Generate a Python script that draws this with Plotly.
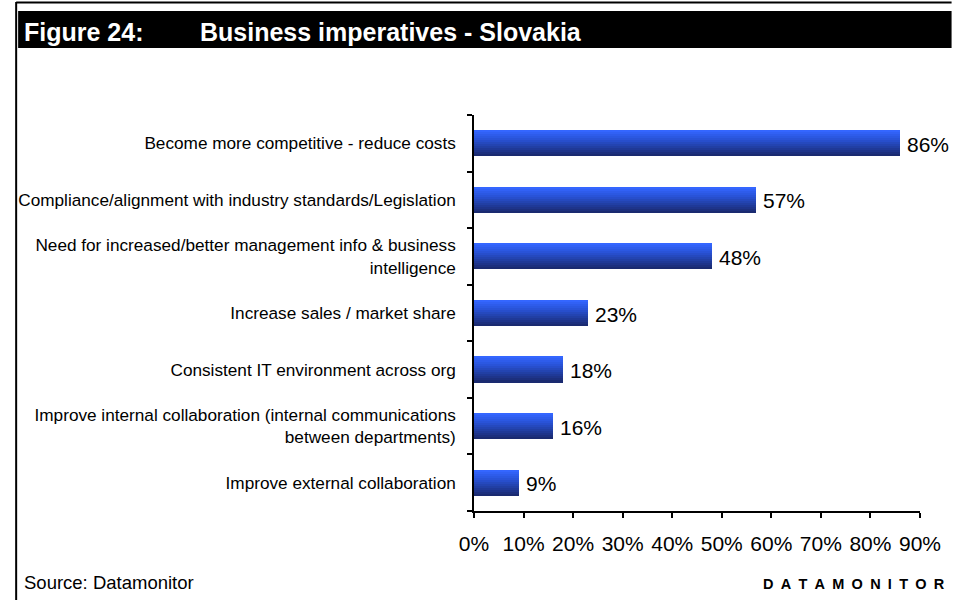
import plotly.graph_objects as go

# ---- data -------------------------------------------------------------
categories = [
    "Become more competitive - reduce costs",
    "Compliance/alignment with industry standards/Legislation",
    "Need for increased/better management info & business<br>intelligence",
    "Increase sales / market share",
    "Consistent IT environment across org",
    "Improve internal collaboration (internal communications<br>between departments)",
    "Improve external collaboration",
]
values = [86, 57, 48, 23, 18, 16, 9]
value_labels = ["86%", "57%", "48%", "23%", "18%", "16%", "9%"]
x_ticks = [0, 10, 20, 30, 40, 50, 60, 70, 80, 90]
x_tick_labels = ["0%", "10%", "20%", "30%", "40%", "50%", "60%", "70%", "80%", "90%"]

# ---- page geometry (pixels) -------------------------------------------
W, H = 953, 600
PLOT_L, PLOT_R, PLOT_T, PLOT_B = 474, 926, 115, 511
FONT = "Liberation Sans, Arial, sans-serif"


def px2x(px):
    return (px - PLOT_L) / (PLOT_R - PLOT_L)


def px2y(py):
    return (PLOT_B - py) / (PLOT_B - PLOT_T)


def mix(c1, c2, t):
    return "rgb(%d,%d,%d)" % tuple(round(a + (b - a) * t) for a, b in zip(c1, c2))


fig = go.Figure()

# Bars are built from thin horizontal strips to give a vertical shading
# (bright blue along the top edge fading to navy at the bottom).
BAR_W = 0.46
N_STRIPS = 13
TOP = (52, 102, 255)
MID = (40, 82, 214)
BOT = (26, 42, 112)
strip = BAR_W / N_STRIPS
for i in range(N_STRIPS):
    t = i / (N_STRIPS - 1)  # 0 = top strip, 1 = bottom strip
    if t < 0.35:
        col = mix(TOP, MID, t / 0.35)
    else:
        col = mix(MID, BOT, (t - 0.35) / 0.65)
    off = BAR_W / 2 - (i + 1) * strip
    fig.add_trace(go.Bar(
        x=values, y=categories, orientation="h",
        width=strip * 1.05, offset=off,
        marker=dict(color=col, line=dict(width=0)),
        hoverinfo="skip", showlegend=False,
    ))

shapes = [
    # outer frame lines
    dict(type="line", xref="paper", yref="paper",
         x0=px2x(10), x1=px2x(W + 5), y0=px2y(2.5), y1=px2y(2.5),
         line=dict(color="black", width=2)),
    dict(type="line", xref="paper", yref="paper",
         x0=px2x(10), x1=px2x(10), y0=px2y(2), y1=px2y(H + 5),
         line=dict(color="black", width=2)),
    # title band
    dict(type="rect", xref="paper", yref="paper",
         x0=px2x(12), x1=px2x(W + 5), y0=px2y(11), y1=px2y(48),
         fillcolor="black", line=dict(width=0), layer="below"),
]

annotations = [
    dict(text="<b>Figure 24:</b>", xref="paper", yref="paper",
         x=px2x(16), y=px2y(32), xanchor="left", yanchor="middle",
         showarrow=False, font=dict(family=FONT, size=25, color="white")),
    dict(text="<b>Business imperatives - Slovakia</b>", xref="paper", yref="paper",
         x=px2x(194), y=px2y(32), xanchor="left", yanchor="middle",
         showarrow=False, font=dict(family=FONT, size=25, color="white")),
    dict(text="Source: Datamonitor", xref="paper", yref="paper",
         x=px2x(16), y=px2y(582), xanchor="left", yanchor="middle",
         showarrow=False, font=dict(family=FONT, size=18.5, color="black")),
    dict(text="<b>" + "\u2002".join("DATAMONITOR") + "</b>", xref="paper", yref="paper",
         x=px2x(953), y=px2y(584), xanchor="right", yanchor="middle",
         showarrow=False, font=dict(family=FONT, size=14.5, color="black")),
]

# value labels just past the end of each bar
for v, lab, cat in zip(values, value_labels, categories):
    annotations.append(dict(
        text=lab, x=v, y=cat, xref="x", yref="y",
        xanchor="left", yanchor="middle", xshift=5, yshift=-1,
        showarrow=False, font=dict(family=FONT, size=21, color="black"),
    ))

fig.update_layout(
    width=W, height=H,
    margin=dict(l=PLOT_L, r=W - PLOT_R, t=PLOT_T, b=H - PLOT_B, pad=0),
    paper_bgcolor="white", plot_bgcolor="white",
    barmode="overlay", bargap=0,
    showlegend=False,
    shapes=shapes, annotations=annotations,
    xaxis=dict(
        range=[0, 90], tickvals=x_ticks, ticktext=x_tick_labels,
        showgrid=False, zeroline=False,
        showline=True, linecolor="black", linewidth=1.5,
        ticks="outside", ticklen=5, tickcolor="black", tickwidth=1.5,
        tickfont=dict(family=FONT, size=21, color="black"),
        ticklabelstandoff=8,
        fixedrange=True,
    ),
    yaxis=dict(
        categoryorder="array", categoryarray=list(reversed(categories)),
        range=[-0.5, len(categories) - 0.5],
        showgrid=False, zeroline=False,
        showline=True, linecolor="black", linewidth=1.5,
        ticks="outside", tickson="boundaries", ticklen=5,
        tickcolor="black", tickwidth=1.5,
        tickfont=dict(family=FONT, size=17.2, color="black"),
        ticklabelstandoff=13,
        fixedrange=True,
    ),
)

fig.write_html("out.html", config={"displayModeBar": False})
